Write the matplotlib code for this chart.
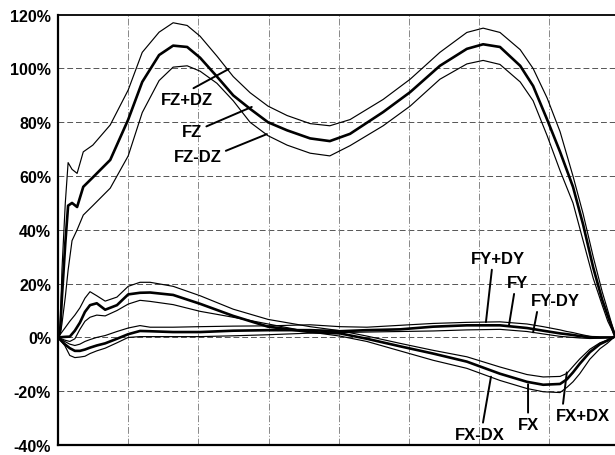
import numpy as np
import matplotlib
matplotlib.use("Agg")
import matplotlib.pyplot as plt

plt.rcParams['font.family'] = ['Liberation Sans', 'DejaVu Sans']
plt.rcParams['font.weight'] = 'bold'
plt.rcParams['lines.solid_joinstyle'] = 'round'

# vertical force (percent of stance, percent of body weight)
x_z = [0, 0.4, 0.7, 1.3, 1.8, 2.5, 3.4, 4.5, 6.2, 9.3, 12.5, 15, 18, 20.5, 23,
       25.3, 28.3, 31.2, 34.2, 37.4, 40.8, 44.9, 48.4, 52, 57.9, 62.7, 68,
       72.8, 75.7, 78.7, 82.3, 84.6, 87.1, 89.4, 91.7, 93.5, 95.3, 96.9,
       97.9, 98.6, 99.2]
fz_hi = [0, 4, 25, 50, 65, 62.5, 61, 69, 71.5, 79, 92, 106, 113.5, 117, 116,
         112, 104.6, 97, 91, 86, 82.5, 79.5, 78.7, 81, 88.5, 96, 106, 113.4,
         115, 113.4, 107, 100, 89, 76.5, 60, 46, 30, 17, 10, 5, 1]
fz = [0, 3, 15, 35, 49, 50, 48.5, 56, 59.5, 66, 81, 95, 105, 108.5, 108,
      104, 97, 90, 85, 80, 77, 74, 73, 75.7, 83.8, 91.2, 101, 107.3, 109,
      108, 101, 93.5, 81, 69, 56, 42, 26, 14, 8, 4, 0.5]
fz_lo = [0, 1, 5, 15, 25, 36, 40, 45.5, 49, 55.5, 67.5, 83.6, 95.5, 100.5,
         101, 99, 94.5, 88, 80, 75, 71.5, 68.5, 67.5, 71.3, 78.7, 86, 96,
         101.7, 103, 101.5, 95, 88, 75, 62, 50, 36, 22, 12, 6, 3, 0]

# shear forces
x_s = [0, 1.2, 2.1, 3, 3.9, 4.8, 5.7, 6.9, 8.4, 10.5, 12.5, 14.6, 16.4, 20.5,
       25.3, 31.2, 37.4, 44.9, 50.2, 55, 60.9, 66.8, 72.8, 78.7, 83.5, 86.4,
       89.4, 90.6, 91.7, 92.9, 94.7, 96.5, 97.8, 98.8]
fx_hi = [0, 3.4, 6, 8.3, 11, 14.6, 17, 15.5, 13.5, 15, 19, 20.5, 20.5, 19,
         15.5, 10.5, 6.7, 4, 2.5, 0.5, -2.2, -4.8, -7.2, -11, -13.8, -14.7,
         -14.5, -13.4, -10.8, -8, -4.4, -2, -1, 0]
fx = [0, 0.2, 0.3, 2.5, 5.5, 9.5, 12, 12.7, 10.3, 12, 16, 16.6, 16.7, 15.8,
      12.5, 8, 4, 2, 1.5, -0.5, -3.3, -6, -9, -13.5, -16.5, -17.6, -17.3,
      -15.6, -13, -9.8, -5.5, -2.5, -1.2, 0]
fx_lo = [0, -1, -1.5, -0.5, 3, 6, 7.5, 8.3, 8, 10, 12.4, 13.8, 13.4, 12.2,
         9.7, 7.5, 5, 2, 0.5, -1.5, -5, -8.5, -11.5, -16, -19, -20.2, -20.5,
         -18.6, -16.5, -13.5, -8.1, -4.2, -2.2, -0.3]
fy_hi = [0, -1.5, -2.5, -3, -2.5, -1.5, -0.8, 0, 0.7, 2.2, 3.5, 4.4, 3.8, 3.8,
         4, 4.2, 4.3, 4.7, 4, 3.8, 4.5, 5.2, 5.6, 5.8, 5, 4, 2.8, 2.2, 1.8,
         1.2, 0.4, 0, 0, 0]
fy = [0, -2.5, -4, -5, -5, -4.5, -3.8, -3, -2.2, -0.5, 1.2, 2.4, 2.3, 2,
      2, 2.5, 2.7, 2.7, 2.3, 2.7, 3, 4, 4.5, 4.5, 3.5, 2.5, 1.5, 1.2, 0.9,
      0.5, 0.1, 0, 0, 0]
fy_lo = [0, -3, -6.7, -7.5, -7.3, -7, -6, -5, -4, -2, 0, 0.3, 0.3, 0.3,
         0.3, 0.6, 1, 1.6, 1.8, 2, 2.2, 2.4, 2.8, 3, 2.2, 1.3, 0.4, 0.2, 0,
         -0.2, -0.4, -0.3, -0.1, 0]

y_ticks = [-40, -20, 0, 20, 40, 60, 80, 100, 120]
x_grid = [12.5, 25, 37.5, 50, 62.5, 75, 87.5]

# label text, label position, point on the curve, where the leader leaves the text
labels = ['FZ+DZ', 'FZ', 'FZ-DZ', 'FY+DY', 'FY', 'FY-DY', 'FX-DX', 'FX', 'FX+DX']
label_xy = [(23.0, 88.6), (23.9, 76.7), (24.9, 67.1), (78.3, 29.5), (81.9, 20.5),
            (88.5, 13.8), (75.1, -36.0), (83.7, -32.3), (93.5, -29.0)]
point_xy = [(30.4, 99.8), (34.5, 85.7), (37.2, 75.6), (76.2, 5.7), (80.3, 4.5),
            (84.6, 1.9), (77.1, -14.6), (83.7, -17.4), (90.6, -13.0)]
leader_rel = [(0.5, 1.0), (1.0, 0.7), (1.0, 0.8), (0.4, 0.0), (0.35, 0.0),
              (0.15, 0.0), (0.55, 1.0), (0.5, 1.0), (0.12, 1.0)]

fig = plt.figure(figsize=(6.15, 4.56), dpi=100)
ax = fig.add_axes([58 / 615, 10 / 456, 561.6 / 615, 430.3 / 456])

thin = 0.85
thick = 1.9
ax.plot(x_z, fz_hi, color='black', lw=thin)
ax.plot(x_z, fz, color='black', lw=thick)
ax.plot(x_z, fz_lo, color='black', lw=thin)
ax.plot(x_s, fx_hi, color='black', lw=thin)
ax.plot(x_s, fx, color='black', lw=thick)
ax.plot(x_s, fx_lo, color='black', lw=thin)
ax.plot(x_s, fy_hi, color='black', lw=thin)
ax.plot(x_s, fy, color='black', lw=thick)
ax.plot(x_s, fy_lo, color='black', lw=thin)

for txt, pos, pt, rel in zip(labels, label_xy, point_xy, leader_rel):
    ax.annotate(txt, xy=pt, xytext=pos, ha='center', va='center',
                fontsize=12, fontweight='bold',
                arrowprops=dict(arrowstyle='-', color='black', lw=1.4,
                                shrinkA=1, shrinkB=0, relpos=rel))

ax.set_xlim(0, 100)
ax.set_ylim(-40, 120)
ax.set_yticks(y_ticks)
ax.set_yticklabels([f'{t}%' for t in y_ticks], fontsize=11.5, fontweight='bold')
ax.set_xticks(x_grid)
ax.set_xticklabels([])
ax.tick_params(axis='both', length=0, pad=5)

# gridlines
for v in y_ticks[1:-1]:
    ax.axhline(v, color='#555555', lw=0.7, ls=(0, (6, 3)), zorder=0)
for v in x_grid:
    ax.axvline(v, color='#888888', lw=0.7, ls=(0, (7, 2, 1, 2)), zorder=0)

ax.spines['right'].set_visible(False)
ax.spines['left'].set_linewidth(1.6)
ax.spines['bottom'].set_linewidth(1.6)
ax.spines['top'].set_linewidth(1.3)

fig.savefig('out.png', dpi=100)
